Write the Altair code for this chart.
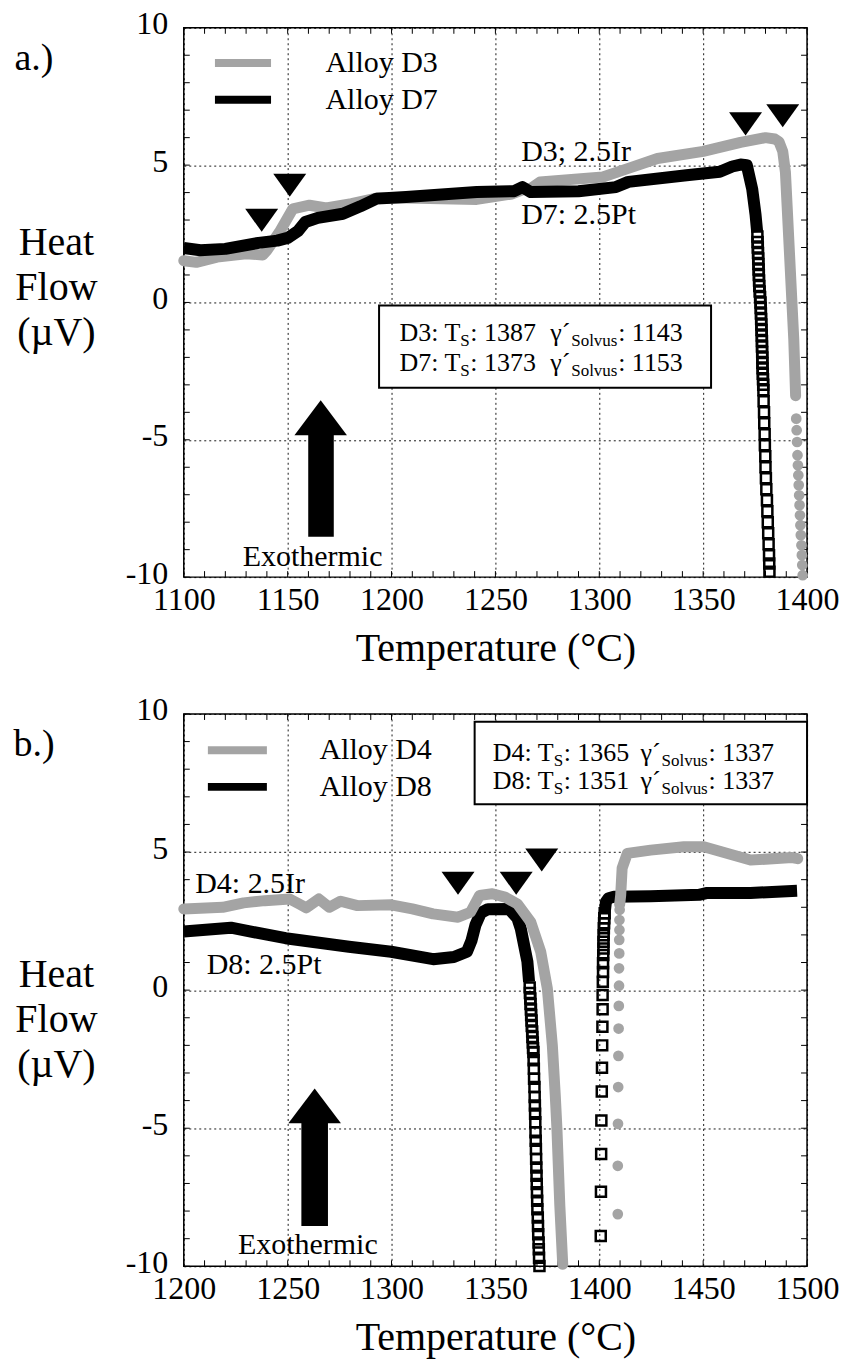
import altair as alt
import pandas as pd

FONT = "Liberation Serif"
GRAY = "#a4a4a4"
W = 624
HA = 550
HB = 553

# ---------------- panel a: Alloy D3 (gray) / Alloy D7 (black) ----------------
a_d3_t = [1100, 1106, 1116, 1130, 1138, 1140, 1146, 1152.5, 1160.5, 1168.6, 1180.7, 1192.8, 1207, 1241,
          1258, 1263, 1267, 1271.5, 1301.7, 1314, 1328, 1350, 1368, 1380, 1384.5, 1386.5, 1388.3, 1389.6,
          1390.4, 1392, 1393.6, 1394.5]
a_d3_v = [1.52, 1.46, 1.65, 1.77, 1.73, 1.89, 2.56, 3.41, 3.54, 3.44, 3.6, 3.8, 3.8, 3.75,
          3.95, 4.1, 4.15, 4.39, 4.57, 4.88, 5.24, 5.5, 5.83, 6.0, 5.95, 5.85, 5.5, 4.74,
          3.53, 1.1, -1.32, -3.4]
a_d3_pt_t = [1394.8, 1395.0, 1395.2, 1395.4, 1395.6, 1395.8, 1396.0, 1396.2, 1396.4, 1396.6, 1396.8,
             1397.0, 1397.3, 1397.5, 1397.7, 1397.9]
a_d3_pt_v = [-4.23, -4.65, -5.08, -5.56, -5.93, -6.29, -6.65, -7.02, -7.38, -7.75, -8.11,
             -8.47, -8.84, -9.2, -9.56, -9.93]

a_d7_t = [1100, 1108, 1120, 1136, 1145, 1150, 1155, 1158.5, 1164.5, 1176.6, 1185, 1192.8, 1207, 1241,
          1259, 1263, 1267, 1290, 1308, 1314, 1342, 1358, 1364, 1368, 1371, 1373.6, 1375.2, 1376]
a_d7_v = [1.98, 1.9, 1.95, 2.17, 2.25, 2.35, 2.6, 2.93, 3.08, 3.23, 3.5, 3.78, 3.84, 4.02,
          4.05, 4.2, 4.02, 4.05, 4.2, 4.39, 4.63, 4.76, 4.95, 5.02, 5.0, 4.13, 3.2, 2.56]
a_d7_pt_t = [1376.1, 1376.2, 1376.3, 1376.4, 1376.5, 1376.6, 1376.7, 1376.8, 1376.9, 1377.0, 1377.2,
             1377.4, 1377.6, 1377.7, 1377.8, 1377.9, 1378.0, 1378.1, 1378.2, 1378.3, 1378.3, 1378.4,
             1378.5, 1378.5, 1378.6, 1378.7, 1378.8, 1378.9, 1379.0,
             1379.1, 1379.3, 1379.4, 1379.6, 1379.7, 1379.9, 1380.0, 1380.2, 1380.4, 1380.7, 1380.9,
             1381.1, 1381.3, 1381.5, 1381.7, 1381.8, 1381.9]
a_d7_pt_v = [2.4, 2.2, 2.0, 1.8, 1.6, 1.4, 1.2, 1.0, 0.8, 0.6, 0.4,
             0.2, 0.0, -0.2, -0.4, -0.6, -0.8, -1.0, -1.2, -1.4, -1.6, -1.8,
             -2.0, -2.2, -2.4, -2.6, -2.8, -3.0, -3.2,
             -3.6, -4.0, -4.4, -4.8, -5.2, -5.6, -6.0, -6.4, -6.8, -7.2, -7.6,
             -8.0, -8.4, -8.8, -9.2, -9.5, -9.8]
a_tri_t = [1137.5, 1151, 1370.4, 1388.3]
a_tri_v = [2.99, 4.27, 6.5, 6.8]

# ---------------- panel b: Alloy D4 (gray) / Alloy D8 (black) ----------------
b_d4_t = [1200, 1218.7, 1228.8, 1239, 1251, 1256, 1259, 1265, 1270, 1275.5, 1283.6, 1299.8, 1310, 1320,
          1332, 1338, 1342.4, 1348.5, 1354.6, 1360.6, 1367, 1371.8, 1375, 1377.4, 1378.8, 1379.6, 1381,
          1382.4]
b_d4_v = [2.94, 3.0, 3.16, 3.24, 3.3, 3.1, 2.98, 3.3, 3.0, 3.22, 3.06, 3.09, 2.94, 2.76,
          2.64, 2.82, 3.43, 3.49, 3.37, 3.12, 2.47, 1.39, 0.06, -2.0, -3.8, -5.0, -7.8, -9.93]
b_d4_rise_t = [1409.8, 1410.3, 1411, 1413.5, 1424.7, 1440.7, 1450.3, 1472.8, 1492.8, 1495.5]
b_d4_rise_v = [3.1, 3.44, 4.42, 4.95, 5.07, 5.19, 5.19, 4.71, 4.8, 4.76]
b_d4_pt_t = [1408.9, 1408.9, 1409.0, 1409.1, 1409.2, 1409.3, 1409.4, 1409.5, 1409.5, 1409.6, 1409.6,
             1409.7, 1409.7, 1409.8]
b_d4_pt_v = [-8.11, -6.36, -4.84, -3.51, -2.38, -1.39, -0.57, 0.16, 0.79, 1.33, 1.82,
             2.18, 2.54, 2.91]

b_d8_t = [1200, 1222.7, 1249, 1279.5, 1299.8, 1320, 1330, 1336.3, 1338.5, 1340.4, 1343, 1346.4, 1356.6,
          1360.6, 1362.2, 1365.4, 1366.2]
b_d8_v = [2.12, 2.26, 1.88, 1.57, 1.39, 1.12, 1.2, 1.39, 1.8, 2.36, 2.8, 2.93, 2.94,
          2.6, 2.23, 1.03, 0.3]
b_d8_rise_t = [1402.6, 1403.2, 1404.5, 1407, 1424.7, 1448, 1452, 1472.8, 1495.2]
b_d8_rise_v = [2.8, 3.2, 3.33, 3.38, 3.4, 3.45, 3.52, 3.52, 3.6]
b_d8_pt_t = [1366.5, 1366.6, 1366.8, 1366.9, 1367.1, 1367.2, 1367.4, 1367.5, 1367.7, 1367.8, 1368.0, 1368.1,
             1368.3, 1368.4, 1368.5, 1368.6, 1368.8, 1368.9, 1369.0, 1369.1, 1369.2, 1369.3, 1369.4,
             1369.5, 1369.6, 1369.7, 1369.8, 1369.9, 1370.0, 1370.1, 1370.2, 1370.4, 1370.5, 1370.6,
             1370.8, 1370.9, 1371.0, 1371.2,
             1400.7, 1400.8, 1400.9, 1401.0, 1401.2, 1401.3, 1401.4, 1401.5, 1401.6, 1401.6, 1401.7,
             1401.8, 1401.8, 1401.9, 1402.0, 1402.0, 1402.1, 1402.2, 1402.3, 1402.4, 1402.6]
b_d8_pt_v = [0.1, -0.1, -0.3, -0.5, -0.7, -0.9, -1.1, -1.3, -1.5, -1.7, -1.9, -2.1,
             -2.24, -2.54, -2.85, -3.21, -3.51, -3.87, -4.18, -4.48, -4.78, -5.15, -5.45,
             -5.75, -6.11, -6.42, -6.72, -7.02, -7.32, -7.63, -7.93, -8.23, -8.54, -8.84,
             -9.14, -9.38, -9.69, -9.99,
             -8.9, -7.3, -5.93, -4.72, -3.67, -2.81, -2.0, -1.33, -0.69, -0.18, 0.3,
             0.66, 0.97, 1.27, 1.51, 1.75, 1.99, 2.24, 2.42, 2.6, 2.78]
b_tri_t = [1332, 1360, 1372.3]
b_tri_v = [3.87, 3.87, 4.71]

# legend / annotation text
a_legend = ["Alloy D3", "Alloy D7"]
b_legend = ["Alloy D4", "Alloy D8"]
a_box = [["D3: T", "S", ": 1387", "γ´", "Solvus", ": 1143"],
         ["D7: T", "S", ": 1373", "γ´", "Solvus", ": 1153"]]
b_box = [["D4: T", "S", ": 1365", "γ´", "Solvus", ": 1337"],
         ["D8: T", "S", ": 1351", "γ´", "Solvus", ": 1337"]]


def df(t, v, **extra):
    d = pd.DataFrame({"t": t, "v": v})
    d["i"] = range(len(d))
    for k, val in extra.items():
        d[k] = val
    return d


def make_panel(xdom, H, title_y, gray_lines, gray_pts, black_lines, black_pts, tri_t, tri_v,
               legend_names, leg_t, leg_v, leg_text_t, note_texts, box_lines, box_rect,
               box_anchor, box_dx, arrow_head, arrow_shaft, gray_on_top):
    xvals = list(range(xdom[0], xdom[1] + 1, 50))
    X = alt.X("t:Q", scale=alt.Scale(domain=xdom, nice=False, zero=False),
              axis=alt.Axis(values=xvals, title="Temperature (°C)", labelPadding=7,
                            titlePadding=13, labelExpr="datum.value + ''"))
    Y = alt.Y("v:Q", scale=alt.Scale(domain=[-10, 10], nice=False, zero=False),
              axis=alt.Axis(values=[-10, -5, 0, 5, 10], title=["Heat", "Flow", "(µV)"],
                            labelPadding=16, labelOffset=-4, titleAngle=0, titleX=-128, titleY=title_y,
                            titleAlign="center", titleBaseline="middle", titleLineHeight=45,
                            labelExpr="datum.value + ''"))
    layers = []
    # inward minor ticks on all four sides
    xt = pd.DataFrame({"t": list(range(xdom[0], xdom[1] + 1, 10))})
    yt = pd.DataFrame({"v": list(range(-10, 11))})
    tick = dict(color="black", strokeWidth=1)
    layers.append(alt.Chart(xt).mark_rule(**tick).encode(x=X, y=alt.value(H), y2=alt.value(H - 6)))
    layers.append(alt.Chart(xt).mark_rule(**tick).encode(x=X, y=alt.value(0), y2=alt.value(6)))
    layers.append(alt.Chart(yt).mark_rule(**tick).encode(y=Y, x=alt.value(0), x2=alt.value(6)))
    layers.append(alt.Chart(yt).mark_rule(**tick).encode(y=Y, x=alt.value(W), x2=alt.value(W - 6)))

    gray_df = pd.concat([df(t, v, seg=str(k)) for k, (t, v) in enumerate(gray_lines)])
    black_df = pd.concat([df(t, v, seg=str(k)) for k, (t, v) in enumerate(black_lines)])
    gray_layers = [
        alt.Chart(gray_df).mark_line(color=GRAY, strokeWidth=11, strokeCap="round", strokeJoin="round")
        .encode(x=X, y=Y, order="i:Q", detail="seg:N"),
        alt.Chart(df(*gray_pts)).mark_point(shape="circle", filled=True, color=GRAY, size=115, opacity=1)
        .encode(x=X, y=Y),
    ]
    black_layers = [
        alt.Chart(black_df).mark_line(color="black", strokeWidth=12, strokeCap="butt", strokeJoin="round")
        .encode(x=X, y=Y, order="i:Q", detail="seg:N"),
        alt.Chart(df(*black_pts)).mark_point(shape="square", filled=False, color="black", strokeWidth=2.5,
                                             size=100, opacity=1).encode(x=X, y=Y),
    ]
    layers += (black_layers + gray_layers) if gray_on_top else (gray_layers + black_layers)

    # solidus / solvus markers
    layers.append(alt.Chart(df(tri_t, tri_v)).mark_point(
        shape="M-1,-0.7L1,-0.7L0,0.7Z", filled=True, color="black", size=1089, opacity=1
    ).encode(x=X, y=Y))

    # legend
    leg = pd.DataFrame({"t": [leg_t[0]] * 2, "t2": [leg_t[1]] * 2, "v": leg_v,
                        "c": [GRAY, "black"], "name": legend_names,
                        "tt": [leg_text_t] * 2})
    layers.append(alt.Chart(leg).mark_rule(strokeWidth=8).encode(
        x=X, x2="t2", y=Y, color=alt.Color("c:N", scale=None)))
    layers.append(alt.Chart(leg).mark_text(font=FONT, fontSize=30, align="left", baseline="middle",
                                           color="black")
                  .encode(x=alt.X("tt:Q", scale=alt.Scale(domain=xdom, nice=False, zero=False)),
                          y=Y, text="name:N"))

    # curve labels, panel tag, exothermic label
    notes = pd.DataFrame(note_texts, columns=["t", "v", "label", "align", "size"])
    for al in ["left", "center"]:
        for sz in sorted(set(notes["size"])):
            sub = notes[(notes["align"] == al) & (notes["size"] == sz)]
            if len(sub):
                layers.append(alt.Chart(sub).mark_text(font=FONT, fontSize=sz, align=al, baseline="middle",
                                                       color="black")
                              .encode(x=X, y=Y, text="label:N"))

    # info box
    layers.append(alt.Chart(pd.DataFrame({"t": [box_rect[0]], "t2": [box_rect[1]],
                                          "v": [box_rect[2]], "v2": [box_rect[3]]}))
                  .mark_rect(fill="white", stroke="black", strokeWidth=2)
                  .encode(x=X, x2="t2", y=Y, y2="v2"))
    for k in range(6):
        sub_script = k in (1, 4)
        piece = pd.DataFrame({"t": [box_anchor[0]] * 2, "v": box_anchor[1],
                              "p": [box_lines[0][k], box_lines[1][k]]})
        layers.append(alt.Chart(piece).mark_text(
            font=FONT, fontSize=17 if sub_script else 26, align="left", baseline="alphabetic",
            dx=box_dx[k], dy=14 if sub_script else 9, color="black").encode(x=X, y=Y, text="p:N"))

    # exothermic arrow: shaft + head
    layers.append(alt.Chart(pd.DataFrame({"t": [arrow_shaft[0]], "t2": [arrow_shaft[1]],
                                          "v": [arrow_shaft[2]], "v2": [arrow_shaft[3]]}))
                  .mark_rect(color="black").encode(x=X, x2="t2", y=Y, y2="v2"))
    layers.append(alt.Chart(df([arrow_head[0]], [arrow_head[1]])).mark_point(
        shape="M-1,0.665L1,0.665L0,-0.665Z", filled=True, color="black", size=2767, opacity=1
    ).encode(x=X, y=Y))

    return alt.layer(*layers).properties(width=W, height=H)


panel_a = make_panel(
    [1100, 1400], HA, 215,
    gray_lines=[(a_d3_t, a_d3_v)], gray_pts=(a_d3_pt_t, a_d3_pt_v),
    black_lines=[(a_d7_t, a_d7_v)], black_pts=(a_d7_pt_t, a_d7_pt_v),
    tri_t=a_tri_t, tri_v=a_tri_v,
    legend_names=a_legend, leg_t=[1115, 1142], leg_v=[8.72, 7.38], leg_text_t=1168.2,
    note_texts=[[1262.4, 5.49, "D3; 2.5Ir", "left", 30], [1262.4, 3.2, "D7: 2.5Pt", "left", 30],
                [1162, -9.27, "Exothermic", "center", 30], [1027.9, 8.87, "a.)", "center", 38]],
    box_lines=a_box, box_rect=[1194, 1353.8, -0.11, -3.11], box_anchor=[1203.8, [-1.08, -2.17]],
    box_dx=[0, 61, 71, 151, 172, 219],
    arrow_head=(1165.9, -4.2),
    arrow_shaft=[1159.9, 1172.2, -4.7, -8.53],
    gray_on_top=False)

panel_b = make_panel(
    [1200, 1500], HB, 261,
    gray_lines=[(b_d4_t, b_d4_v), (b_d4_rise_t, b_d4_rise_v)], gray_pts=(b_d4_pt_t, b_d4_pt_v),
    black_lines=[(b_d8_t, b_d8_v), (b_d8_rise_t, b_d8_rise_v)], black_pts=(b_d8_pt_t, b_d8_pt_v),
    tri_t=b_tri_t, tri_v=b_tri_v,
    legend_names=b_legend, leg_t=[1211.6, 1240], leg_v=[8.69, 7.36], leg_text_t=1265.3,
    note_texts=[[1205.5, 3.85, "D4: 2.5Ir", "left", 30], [1211, 0.91, "D8: 2.5Pt", "left", 30],
                [1259.7, -9.23, "Exothermic", "center", 30], [1127.9, 8.87, "b.)", "center", 38]],
    box_lines=b_box, box_rect=[1340, 1500, 9.72, 6.73], box_anchor=[1348.7, [8.63, 7.6]],
    box_dx=[0, 61, 71, 148, 169, 216],
    arrow_head=(1263.0, -4.19),
    arrow_shaft=[1256.6, 1269.4, -4.7, -8.54],
    gray_on_top=True)

chart = (
    alt.vconcat(panel_a, panel_b, spacing=137, bounds="flush")
    .properties(padding={"left": 12, "top": 6, "right": 5, "bottom": 5}, background="white")
    .configure_view(stroke="black", strokeWidth=1.5)
    .configure_axis(labelFont=FONT, labelFontSize=32, labelColor="black", titleFont=FONT,
                    titleFontSize=40, titleFontWeight="normal", titleColor="black", grid=True,
                    gridColor="black", gridDash=[2, 3], gridWidth=1, gridOpacity=0.9, ticks=False,
                    domain=False, labelFlush=False, labelOverlap=False)
)

chart.save("out.html", embed_options={"renderer": "svg", "actions": False})
